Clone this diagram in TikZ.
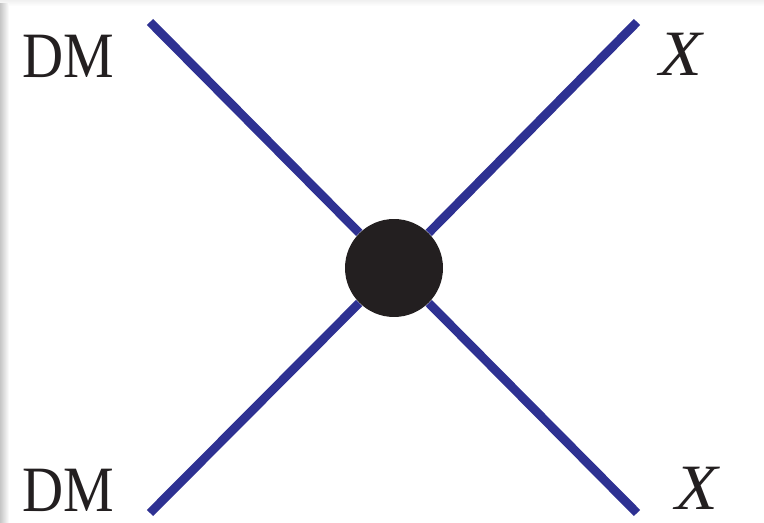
\documentclass[tikz,border=0pt]{standalone}
\usepackage{fontspec}
\setmainfont{Liberation Serif}
\usepackage{tikz}
\usetikzlibrary{positioning}

\definecolor{legblue}{RGB}{46,49,146}
\definecolor{blobblack}{RGB}{35,31,32}

\begin{document}
\begin{tikzpicture}[x=0.02cm, y=-0.02cm,
  leg/.style={draw=legblue, line width=5pt},
  vertex/.style={circle, fill=blobblack, minimum size=1.96cm, inner sep=0pt},
  lbl/.style={text=blobblack, font=\fontsize{36.8}{40}\selectfont, inner sep=0pt, anchor=base west},
  dmlbl/.style={lbl, xscale=0.88, transform shape},
  xlbl/.style={lbl, xscale=1.08, transform shape}
]
  \useasboundingbox (0,0) rectangle (764,523);
  % shadow of the page edge
  \shade[top color=gray!12, bottom color=white] (0,0) rectangle (764,6);
  \shade[left color=gray!45, right color=white] (0,4) rectangle (9,523);

  \def\lx{150} \def\rx{637} \def\ty{22} \def\by{513}
  \coordinate (dmA) at (\lx,\ty);
  \coordinate (dmB) at (\lx,\by);
  \coordinate (xA) at (\rx,\ty);
  \coordinate (xB) at (\rx,\by);
  \node[vertex] (V) at (394,268) {};

  \draw[leg] (dmA) -- (V);
  \draw[leg] (dmB) -- (V);
  \draw[leg] (xA) -- (V);
  \draw[leg] (xB) -- (V);

  \node[dmlbl] (dmTop) at (22,78) {DM};
  \node[dmlbl] (dmBot) at (22,511) {DM};
  \node[xlbl] (xTop) at (659,76) {\textit{X}};
  \node[xlbl] (xBot) at (675,509) {\textit{X}};
\end{tikzpicture}
\end{document}
